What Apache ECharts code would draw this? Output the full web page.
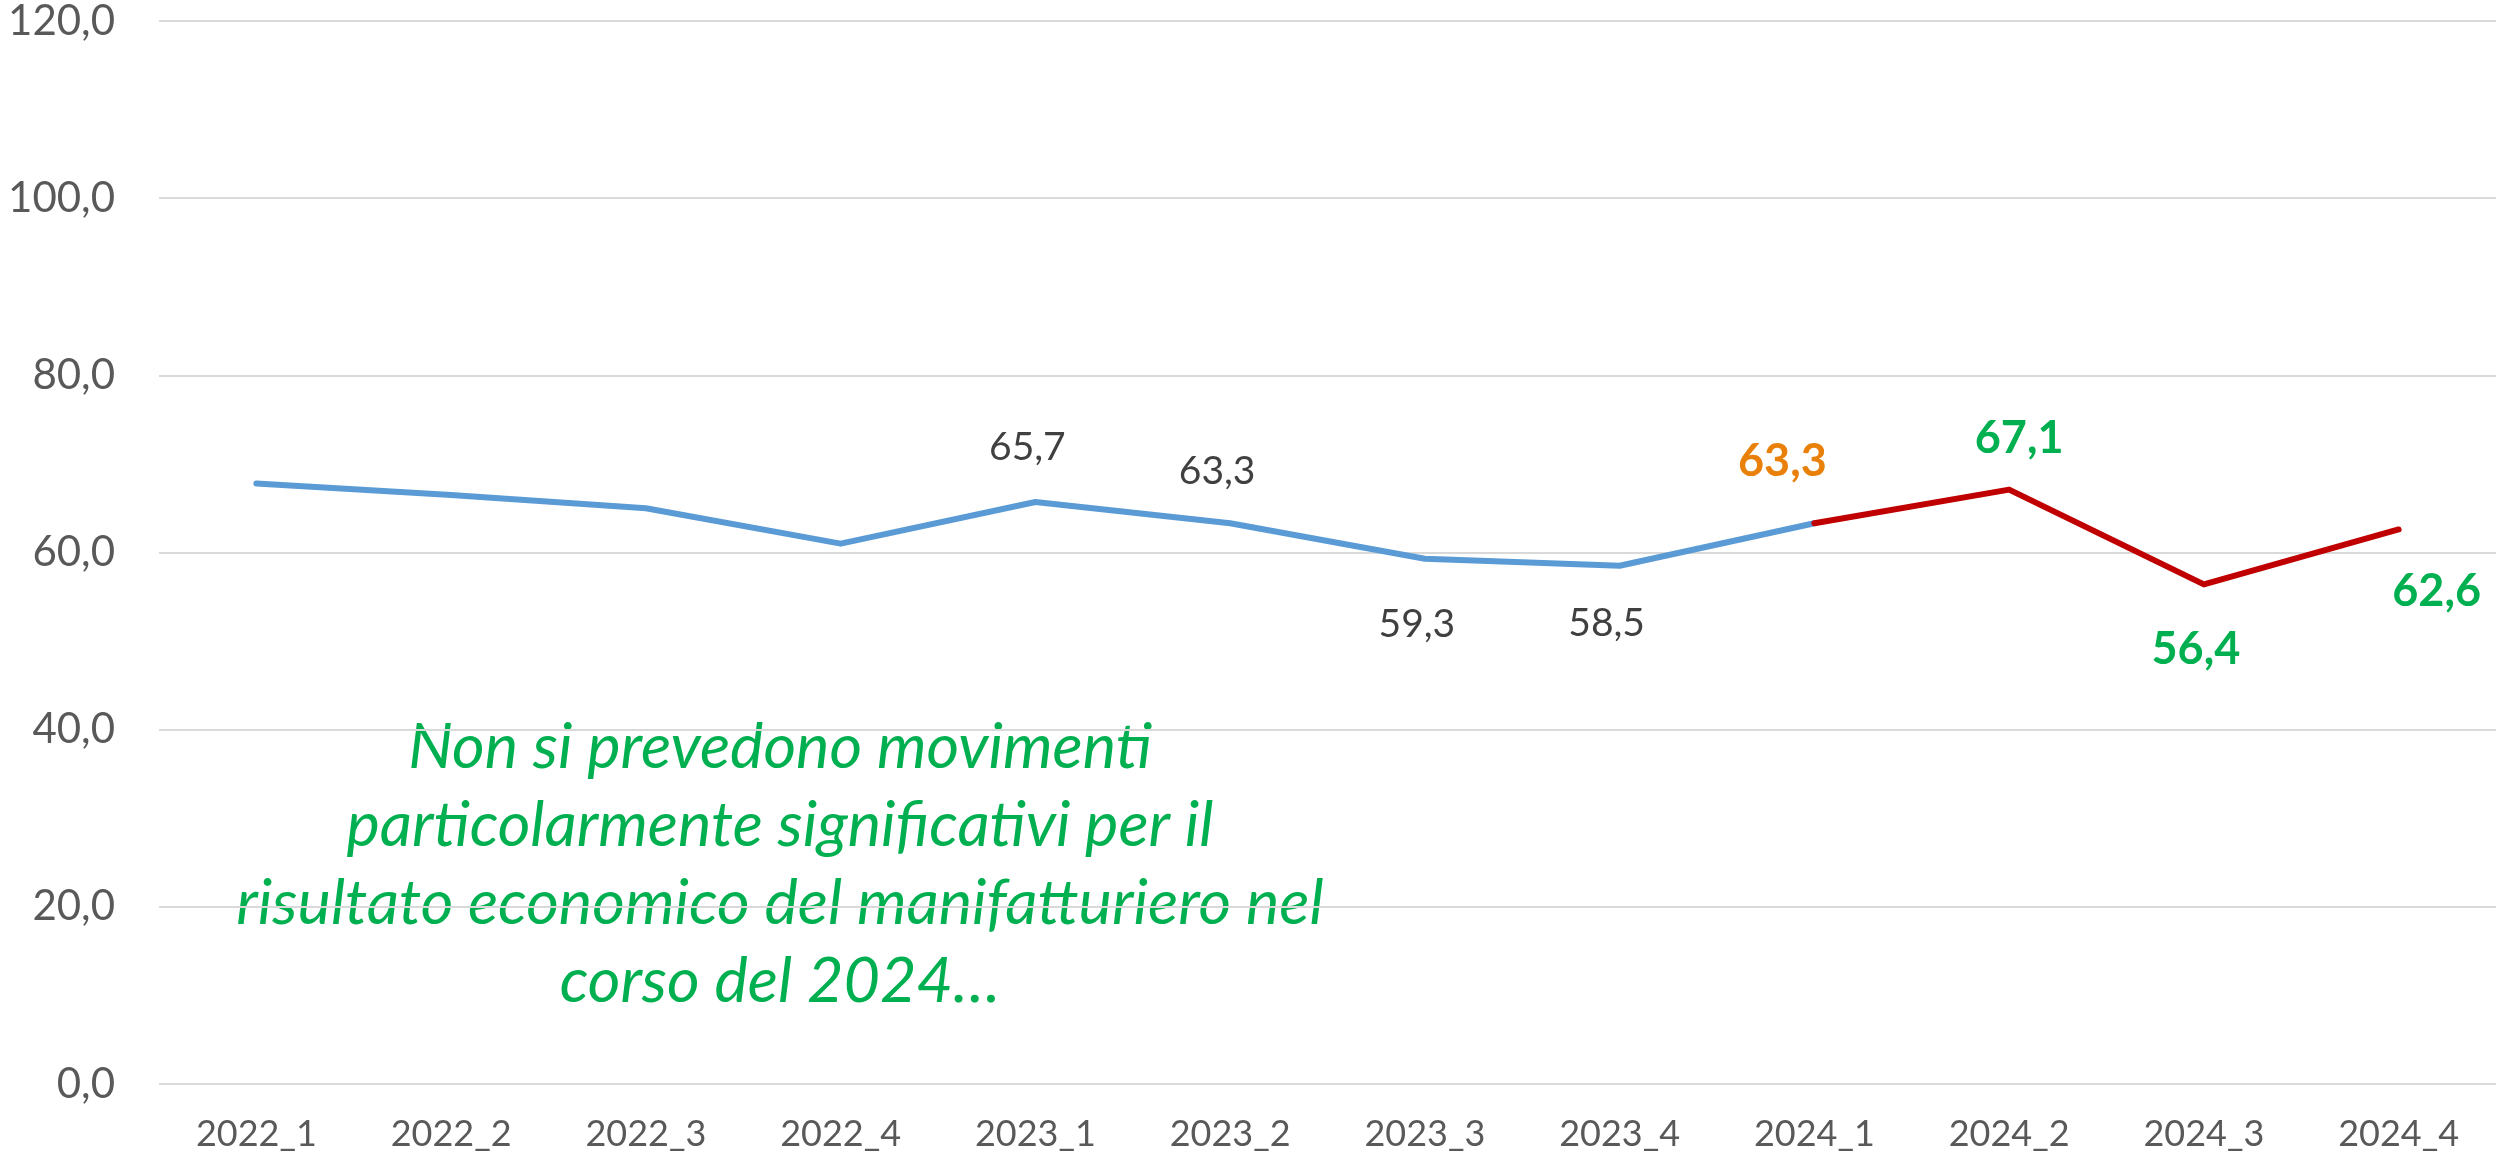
<!DOCTYPE html>
<html>
<head>
<meta charset="utf-8">
<script src="https://cdn.jsdelivr.net/npm/echarts@6/dist/echarts.min.js"></script>
<style>
  html, body { margin: 0; padding: 0; background: #fff; }
  #chart { width: 2496px; height: 1153px; }
</style>
</head>
<body>
<div id="chart"></div>
<script>
// dati
const categories = ["2022_1", "2022_2", "2022_3", "2022_4", "2023_1", "2023_2",
                    "2023_3", "2023_4", "2024_1", "2024_2", "2024_3", "2024_4"];
const storico = [67.8, 66.5, 65.0, 61.0, 65.7, 63.3, 59.3, 58.5, 63.3, null, null, null];
const previsione = [null, null, null, null, null, null, null, null, 63.3, 67.1, 56.4, 62.6];
const yTicks = [0, 20, 40, 60, 80, 100, 120];
const nota = "Non si prevedono movimenti\nparticolarmente significativi per il\nrisultato economico del manifatturiero nel\ncorso del 2024…";

const fmt = v => v.toFixed(1).replace(".", ",");

// dove stanno le etichette (solo stile)
const lblStorico = {
  4: { position: "top", distance: 34, offset: [-8, 0] },
  5: { position: "top", distance: 31, offset: [-13, 0] },
  6: { position: "bottom", distance: 45, offset: [-8, 0] },
  7: { position: "bottom", distance: 37, offset: [-13, 0] }
};
const lblPrev = {
  8: { position: "top", distance: 38, offset: [-32, 0], color: "#E8800A" },
  9: { position: "top", distance: 28, offset: [10, 0] },
  10: { position: "bottom", distance: 42, offset: [-8, 0] },
  11: { position: "bottom", distance: 39, offset: [38, 0] }
};

function buildData(values, lbls, base) {
  return values.map((v, i) => {
    const l = lbls[i];
    if (!l || v == null) return { value: v, label: { show: false } };
    return { value: v, label: Object.assign({ show: true }, base, l) };
  });
}

const chart = echarts.init(document.getElementById("chart"));
chart.setOption({
  animation: false,
  textStyle: { fontFamily: "Lato" },
  grid: { left: 159, right: 0, top: 21, bottom: 69, outerBoundsMode: "none" },
  xAxis: {
    type: "category",
    data: categories,
    boundaryGap: true,
    axisLine: { show: false },
    axisTick: { show: false },
    axisLabel: { color: "#595959", fontSize: 36, margin: 32, fontFamily: "Lato" }
  },
  yAxis: {
    type: "value",
    min: yTicks[0],
    max: yTicks[yTicks.length - 1],
    interval: 20,
    axisLine: { show: false },
    axisTick: { show: false },
    splitLine: { lineStyle: { color: "#D9D9D9", width: 2 } },
    axisLabel: { color: "#595959", fontSize: 42, margin: 44, formatter: fmt, fontFamily: "Lato" }
  },
  series: [
    {
      name: "storico",
      type: "line",
      data: buildData(storico, lblStorico, {
        color: "#404040", fontSize: 39, formatter: p => fmt(p.value)
      }),
      showSymbol: true,
      symbol: "circle",
      symbolSize: 2,
      itemStyle: { color: "rgba(0,0,0,0)" },
      lineStyle: { color: "#5B9BD5", width: 6, cap: "round", join: "round" },
      z: 2
    },
    {
      name: "previsione",
      type: "line",
      data: buildData(previsione, lblPrev, {
        color: "#00B050", fontSize: 45, fontWeight: "bold", formatter: p => fmt(p.value)
      }),
      showSymbol: true,
      symbol: "circle",
      symbolSize: 2,
      itemStyle: { color: "rgba(0,0,0,0)" },
      lineStyle: { color: "#C00000", width: 6, cap: "round", join: "round" },
      z: 3
    }
  ],
  graphic: [
    {
      type: "text",
      x: 780,
      y: 709,
      style: {
        text: nota,
        fill: "#00B050",
        font: "italic 63px Lato",
        lineHeight: 78,
        align: "center"
      }
    }
  ]
});
</script>
</body>
</html>
